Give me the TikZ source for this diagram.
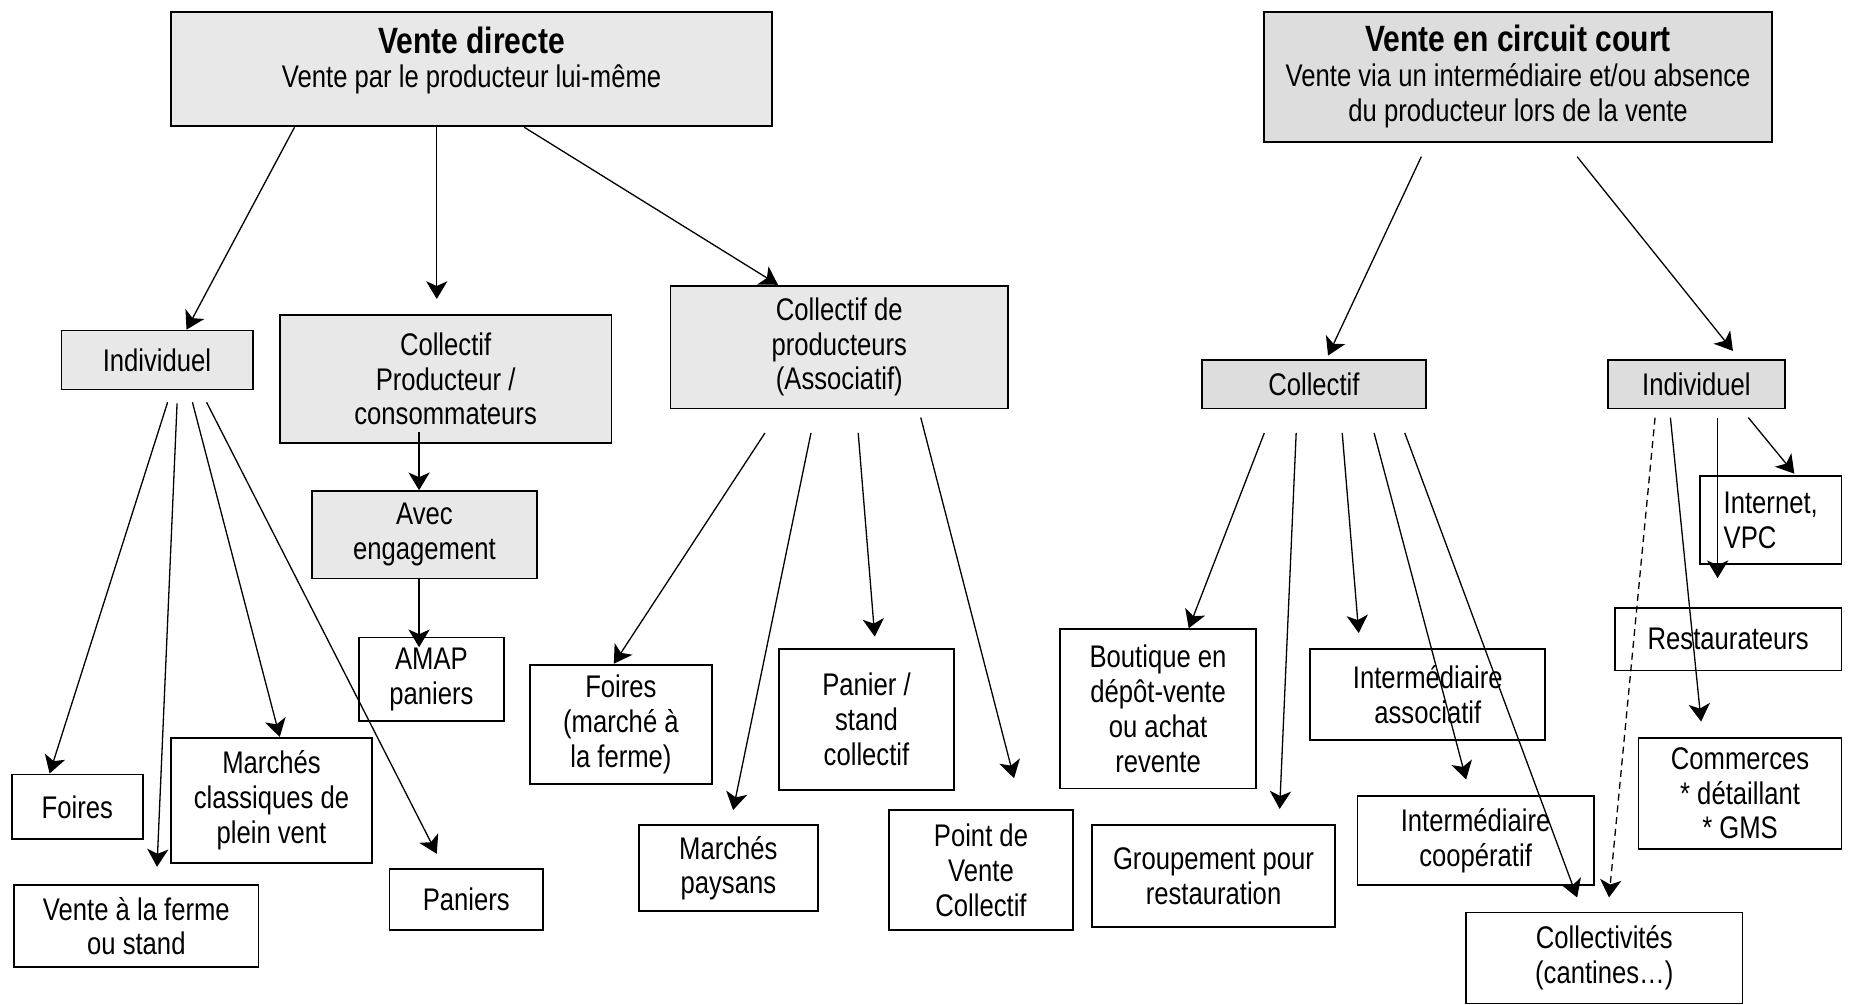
\documentclass[tikz,border=0pt]{standalone}
\usepackage{fontspec}
\setmainfont{Liberation Sans}[FakeStretch=0.82]
\usetikzlibrary{arrows.meta, positioning}
\definecolor{grisclair}{HTML}{E8E8E8}
\definecolor{grisfonce}{HTML}{DDDDDD}
\newcommand{\corps}{\fontsize{26.5}{29.5}\selectfont}
\newcommand{\grostitre}[1]{{\fontsize{31}{34}\selectfont\bfseries #1}}
\tikzset{x=1pt, y=-1pt, >={Stealth[length=15pt, width=18pt, inset=4pt]},
  boite/.style={draw, line width=1.5pt, align=center, inner sep=0pt, font=\corps},
  gris/.style={boite, fill=grisclair},
  grisd/.style={boite, fill=grisfonce},
  fleche/.style={->, line width=1.1pt},
  pointille/.style={fleche, dash pattern=on 6pt off 4pt}}

\begin{document}
\begin{tikzpicture}
    \useasboundingbox (0,0) rectangle (1568,851);
    % vente directe
    \node[gris, minimum width=509, minimum height=97, text depth=20pt] (directe) at (399.5,58.5) {\grostitre{Vente directe}\\Vente par le producteur lui-même};
    \node[gris, minimum width=162, minimum height=50] (indiv-g) at (133,305) {Individuel};
    \node[gris, minimum width=281, minimum height=108] (coll-pc) at (377.5,321) {Collectif\\Producteur /\\consommateurs};
    \node[gris, minimum width=286, minimum height=104] (coll-prod) at (711,294) {Collectif de\\producteurs\\(Associatif)};
    \node[gris, minimum width=191, minimum height=74] (engagement) at (359.5,453) {Avec\\engagement};
    \node[boite, minimum width=123, minimum height=71] (amap) at (365.5,575.5) {AMAP\\paniers};
    \node[boite, minimum width=111, minimum height=55] (foires-g) at (65.5,683.5) {Foires};
    \node[boite, minimum width=207, minimum height=69] (ferme) at (115.5,784.5) {Vente à la ferme\\ou stand};
    \node[boite, minimum width=170, minimum height=106] (marches) at (230,678) {Marchés\\classiques de\\plein vent};
    \node[boite, minimum width=130, minimum height=52] (paniers) at (395,762) {Paniers};
    \node[boite, minimum width=154, minimum height=101] (foires-m) at (526,613.5) {Foires\\(marché à\\la ferme)};
    \node[boite, minimum width=152, minimum height=73] (paysans) at (617,735.5) {Marchés\\paysans};
    \node[boite, minimum width=148, minimum height=119] (stand) at (734,609.5) {Panier /\\stand\\collectif};
    \node[boite, minimum width=156, minimum height=102] (point-vente) at (831,737) {Point de\\Vente\\Collectif};
    % vente en circuit court
    \node[grisd, minimum width=430, minimum height=110] (court) at (1286,65) {\grostitre{Vente en circuit court}\\Vente via un intermédiaire et/ou absence\\du producteur lors de la vente};
    \node[grisd, minimum width=190, minimum height=41] (coll-d) at (1113,325.5) {Collectif};
    \node[grisd, minimum width=150, minimum height=41] (indiv-d) at (1437,325.5) {Individuel};
    \node[boite, minimum width=120, minimum height=75, align=left] (internet) at (1500,440.5) {Internet,\\VPC};
    \node[boite, minimum width=192, minimum height=53] (resto) at (1464,541.5) {Restaurateurs};
    \node[boite, minimum width=172, minimum height=94] (commerces) at (1474,672) {Commerces\\* détaillant\\* GMS};
    \node[boite, minimum width=166, minimum height=135] (boutique) at (981,600.5) {Boutique en\\dépôt-vente\\ou achat\\revente};
    \node[boite, minimum width=199, minimum height=77] (inter-asso) at (1209.5,588.5) {Intermédiaire\\associatif};
    \node[boite, minimum width=206, minimum height=86] (groupement) at (1028,742) {Groupement pour\\restauration};
    \node[boite, minimum width=200, minimum height=76] (inter-coop) at (1250,712) {Intermédiaire\\coopératif};
    \node[boite, minimum width=234, minimum height=77] (collectivites) at (1359,811.5) {Collectivités\\(cantines…)};

    \draw[fleche] ([xshift=-150]directe.south) -- ([xshift=25]indiv-g.north);
    \draw[fleche] ([xshift=-29.5]directe.south) -- ([shift={(-7.5,-13)}]coll-pc.north);
    \draw[fleche] ([xshift=44.5]directe.south) -- ([xshift=-52]coll-prod.north);
    \draw[fleche] ([shift={(-22.5,-10)}]coll-pc.south) -- ([xshift=-4.5]engagement.north);
    \draw[fleche] ([xshift=-4.5]engagement.south) -- ([shift={(-10.5,9)}]amap.north);
    \draw[fleche] ([shift={(9,10)}]indiv-g.south) -- ([xshift=-23.5]foires-g.north);
    \draw[fleche] ([shift={(17,11)}]indiv-g.south) -- ([shift={(17.5,-15)}]ferme.north);
    \draw[fleche] ([shift={(30,10)}]indiv-g.south) -- ([xshift=7]marches.north);
    \draw[fleche] ([shift={(42,10)}]indiv-g.south) -- ([shift={(-25,-12)}]paniers.north);
    \draw[fleche] ([shift={(-63,20)}]coll-prod.south) -- ([xshift=-6]foires-m.north);
    \draw[fleche] ([shift={(-24,20)}]coll-prod.south) -- ([shift={(4,-12)}]paysans.north);
    \draw[fleche] ([shift={(16,20)}]coll-prod.south) -- ([shift={(7,-10)}]stand.north);
    \draw[fleche] ([shift={(69,7)}]coll-prod.south) -- ([shift={(28,-26)}]point-vente.north);

    \draw[fleche] ([shift={(-82,12)}]court.south) -- ([shift={(12,-3)}]coll-d.north);
    \draw[fleche] ([shift={(50,12)}]court.south) -- ([shift={(31,-7)}]indiv-d.north);
    \draw[fleche] ([shift={(-42,20)}]coll-d.south) -- ([xshift=26]boutique.north);
    \draw[fleche] ([shift={(-15,20)}]coll-d.south) -- ([shift={(56,-13)}]groupement.north);
    \draw[fleche] ([shift={(24,20)}]coll-d.south) -- ([shift={(-58.5,-13)}]inter-asso.north);
    \draw[fleche] ([shift={(51,20)}]coll-d.south) -- ([shift={(-8,-13)}]inter-coop.north);
    \draw[fleche] ([shift={(77,20)}]coll-d.south) -- ([shift={(-23,-12)}]collectivites.north);
    \draw[pointille] ([shift={(-35,7)}]indiv-d.south) -- ([shift={(4,-12)}]collectivites.north);
    \draw[fleche] ([shift={(-22,7)}]indiv-d.south) -- ([shift={(-33,-13)}]commerces.north);
    \draw[fleche] ([shift={(18,7)}]indiv-d.south) -- ([shift={(-45,11)}]internet.south);
    \draw[fleche] ([shift={(44,7)}]indiv-d.south) -- ([shift={(20,-1)}]internet.north);
\end{tikzpicture}
\end{document}
